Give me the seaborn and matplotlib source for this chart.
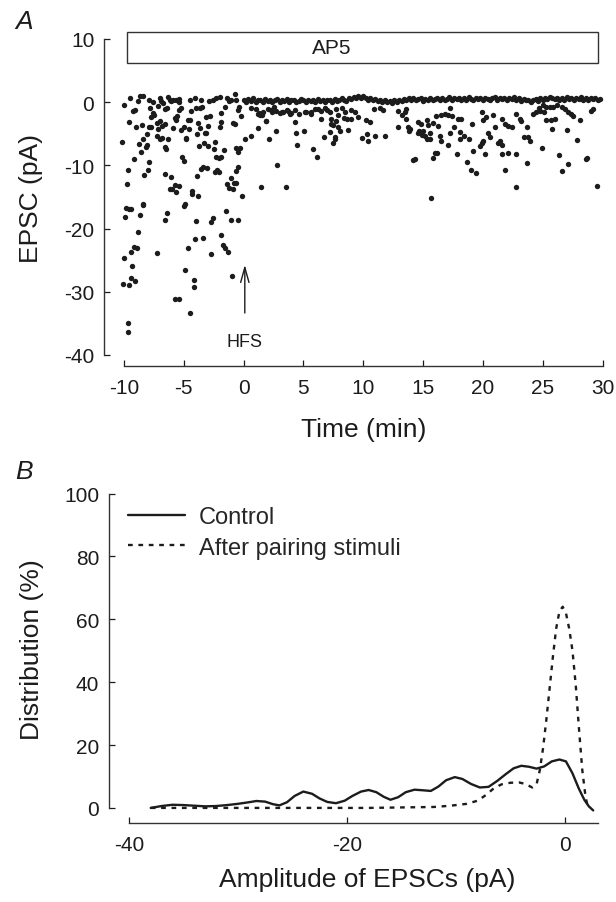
import numpy as np
import pandas as pd
import matplotlib
matplotlib.use("Agg")
import matplotlib.pyplot as plt
import seaborn as sns
from matplotlib.patches import Rectangle

# ---------- panel A: EPSC amplitude vs time (min, pA) ----------
pre_hfs = [
    (-10.15, -6.3), (-10.0, -0.5), (-9.76, -13.0), (-9.68, -10.7), (-9.85, -16.8), (-9.6, -16.9),
    (-9.45, -16.9), (-9.9, -18.1), (-10.0, -24.6), (-10.07, -28.8), (-9.54, -29.0), (-9.68, -35.0),
    (-9.65, -36.3), (-9.26, -1.4), (-9.12, -1.3), (-9.6, -3.2), (-8.84, 0.2), (-8.7, 1.0),
    (-8.42, 1.0), (-9.18, -9.0), (-8.56, -7.9), (-8.76, -6.6), (-8.42, -5.9), (-8.98, -4.0),
    (-8.48, -3.6), (-9.2, -22.9), (-8.9, -23.0), (-9.4, -23.7), (-9.3, -25.9), (-9.4, -27.8),
    (-9.04, -28.3), (-8.79, -20.5), (-8.7, -17.9), (-8.42, -16.1), (-8.37, -16.2), (-8.34, -11.5),
    (-8.0, -10.8), (-7.87, -9.4), (-8.2, -7.1), (-8.06, -6.7), (-8.1, -5.0), (-7.95, -4.0),
    (-7.73, -3.9), (-7.73, -2.3), (-7.59, -1.7), (-7.45, -2.0), (-7.87, 0.3), (-7.59, 0.1),
    (-7.81, -0.9), (-7.17, -0.6), (-7.03, 0.7), (-6.89, 0.2), (-6.75, -0.1), (-7.25, -3.3),
    (-7.03, -3.0), (-7.25, -5.4), (-7.03, -5.9), (-6.8, -5.6), (-7.17, -4.2), (-6.8, -3.8),
    (-6.6, -3.4), (-6.53, -1.1), (-6.39, -0.9), (-6.19, 0.3), (-6.05, 0.2), (-6.6, -7.1),
    (-6.47, -7.4), (-6.33, -5.8), (-6.56, -11.4), (-6.05, -11.9), (-6.14, -13.7), (-5.97, -13.8),
    (-5.63, -14.2), (-5.77, -13.1), (-5.41, -13.2), (-6.42, -17.6), (-6.61, -18.7), (-7.25, -23.9),
    (-5.91, -4.1), (-5.77, -2.5), (-5.58, -2.2), (-5.63, -2.9), (-5.36, 0.0), (-5.44, -1.2),
    (-5.22, -0.9), (-5.91, 0.3), (-5.63, 0.4), (-5.36, 0.5), (-5.13, -8.7), (-4.99, -9.3),
    (-5.27, -4.4), (-5.02, -4.0), (-4.8, -5.7), (-4.66, -2.8), (-4.57, -4.2), (-4.52, -2.9),
    (-4.38, -1.4), (-4.1, 0.7), (-4.44, 0.3), (-4.85, -5.8), (-4.91, -16.1), (-4.99, -16.5),
    (-4.88, -26.5), (-4.16, -28.1), (-4.16, -29.2), (-4.52, -33.3), (-4.66, -23.1), (-3.96, -18.8),
    (-4.04, -21.6), (-3.82, -14.9), (-4.32, -14.1), (-4.3, -14.6), (-5.77, -31.1), (-5.44, -31.1),
    (-3.96, -0.9), (-3.68, -1.0), (-3.54, 0.3), (-3.46, -0.7), (-3.9, -5.0), (-3.82, -3.3),
    (-3.68, -4.1), (-3.88, -11.7), (-3.54, -10.6), (-3.4, -10.2), (-3.07, -10.4), (-3.4, -21.5),
    (-3.74, -7.0), (-3.32, -6.4), (-2.98, -6.9), (-3.26, -4.9), (-3.12, -4.9), (-2.98, -3.7),
    (-3.18, -2.4), (-2.9, 0.2), (-2.79, -2.2), (-2.76, -24.0), (-2.71, -18.9), (-2.57, -18.3),
    (-2.48, -7.4), (-2.43, -6.3), (-2.37, -11.0), (-2.2, -10.8), (-2.09, -11.1), (-2.29, -8.6),
    (-2.06, -8.9), (-1.92, -8.7), (-1.65, -7.6), (-2.01, -3.9), (-1.87, -3.2), (-1.87, -1.7),
    (-1.59, -0.8), (-2.34, 0.7), (-2.01, 0.8), (-1.37, 0.7), (-1.26, 0.2), (-1.09, 0.4),
    (-0.75, 1.3), (-0.61, 0.3), (-0.47, -1.2), (-0.39, -0.7), (-0.92, -3.3), (-0.75, -3.4),
    (-1.39, -12.9), (-1.23, -13.6), (-0.89, -13.8), (-0.81, -12.8), (-0.61, -12.8), (-0.47, -10.2),
    (-0.67, -10.9), (-1.06, -12.0), (-0.61, -7.2), (-0.47, -7.9), (-0.33, -7.2), (-0.11, -14.9),
    (-1.03, -18.6), (-1.45, -17.2), (-0.47, -18.7), (-1.87, -21.0), (-1.73, -22.6), (-1.53, -23.0),
    (-1.31, -23.7), (-0.98, -27.5), (-0.2, -2.2), (-9.5, 0.6), (-6.3, 0.8), (-2.6, 0.4),
]

post_hfs = [
    (0.08, -5.8), (0.59, -5.3), (1.2, -4.1), (1.56, -2.0), (1.48, -13.5), (2.12, -5.9),
    (2.78, -10.0), (1.9, -3.0), (2.3, -1.3), (2.54, -0.8), (1.2, -1.9), (1.34, -2.0),
    (1.84, -3.0), (2.68, -4.6), (3.51, -13.4), (4.32, -3.1), (4.35, -4.8), (5.05, -4.6),
    (4.46, -6.7), (0.64, -0.85), (1.0, -1.1), (1.3, -1.75), (1.6, -1.5), (2.0, -1.1),
    (2.4, -1.6), (2.7, -1.4), (3.0, -1.75), (3.3, -1.5), (3.7, -1.4), (4.0, -1.75),
    (4.6, -1.9), (5.1, -1.6), (3.2, -1.6), (3.9, -1.8), (3.6, -1.2), (4.3, -1.3),
    (5.24, -1.6), (5.66, -1.6), (5.94, -1.1), (6.22, -1.1), (6.44, -1.4), (5.66, -1.9),
    (6.5, -2.6), (7.2, -1.6), (7.7, -1.1), (7.9, -2.1), (7.3, -2.7), (7.75, -3.0),
    (7.28, -3.4), (7.47, -3.6), (7.89, -3.9), (8.03, -4.6), (7.61, -5.5), (7.67, -5.9),
    (7.19, -4.7), (6.72, -5.5), (7.47, -6.5), (5.8, -7.4), (6.14, -8.7), (8.37, -2.5),
    (8.68, -2.7), (8.95, -2.7), (8.73, -4.4), (9.29, -1.6), (9.57, -2.3), (10.2, -2.8),
    (10.54, -3.1), (9.9, -5.6), (10.35, -5.1), (10.4, -6.1), (11.02, -5.3), (11.8, -5.3),
    (10.9, -1.1), (11.4, -0.85), (11.66, -1.2), (12.9, -1.4), (13.2, -2.1), (13.47, -1.6),
    (13.6, -2.7), (12.9, -3.9), (13.75, -4.0), (13.8, -4.6), (7.0, -1.3), (8.2, -1.0),
    (8.5, -1.5), (9.0, -1.2), (6.8, -0.9),
    (13.6, -1.1), (13.9, -4.3), (14.6, -3.1), (14.8, -3.4), (15.3, -2.8), (15.42, -3.65),
    (15.84, -3.3), (16.26, -3.8), (16.12, -2.2), (16.54, -2.1), (16.82, -1.9), (17.1, -2.1),
    (17.38, -2.2), (17.24, -1.0), (17.9, -2.6), (18.2, -2.6), (19.05, -3.5), (19.89, -1.6),
    (20.03, -2.8), (20.3, -2.4), (20.86, -2.1), (21.56, -2.7), (21.84, -3.5), (22.12, -3.8),
    (22.4, -3.9), (14.59, -4.8), (14.7, -4.55), (15.0, -4.55), (15.15, -5.3), (15.3, -5.8),
    (15.56, -5.8), (14.87, -5.2), (15.56, -4.8), (16.4, -5.3), (16.54, -6.1), (17.1, -6.7),
    (17.24, -4.8), (17.57, -3.9), (18.1, -4.7), (18.1, -5.8), (18.44, -5.3), (18.86, -5.9),
    (19.89, -6.4), (20.03, -6.1), (19.75, -6.9), (20.45, -4.8), (20.58, -5.45), (21.0, -3.9),
    (21.42, -6.1), (21.56, -6.7), (21.28, -6.4), (14.3, -9.0), (14.17, -9.15), (15.98, -8.0),
    (15.84, -8.8), (16.2, -8.0), (17.85, -8.25), (19.19, -7.7), (18.7, -9.5), (20.17, -8.25),
    (21.6, -8.2), (22.12, -8.0), (18.97, -10.8), (19.4, -11.2), (21.84, -10.8), (15.7, -15.1),
    (22.8, -1.9), (22.8, -8.2), (22.8, -13.5), (23.1, -2.7), (23.2, -3.0), (23.4, -5.5),
    (23.8, -5.5), (23.9, -6.1), (23.65, -4.0), (23.7, -9.6), (24.2, -1.9), (24.4, -1.6),
    (24.9, -7.3), (25.3, -2.8), (25.7, -2.8), (26.0, -2.6), (25.8, -4.3), (26.4, -8.3),
    (26.6, -10.9), (27.1, -9.8), (27.0, -4.4), (27.4, -1.9), (27.9, -6.0), (28.1, -2.9),
    (28.6, -9.0), (28.7, -8.8), (29.2, -1.1), (29.03, -1.4), (29.5, -13.3), (24.7, -0.9),
    (25.05, -0.5), (25.3, -0.8), (25.6, -0.7), (25.9, -0.8), (26.2, -0.5), (26.6, -0.8),
    (26.9, -1.1), (27.1, -1.6), (27.55, -2.2), (24.8, -1.4), (25.1, -1.5),
]

baseline_t = [
    0.0, 0.2, 0.4, 0.6, 0.8, 1.0, 1.2, 1.4, 1.6, 1.8,
    2.0, 2.2, 2.4, 2.6, 2.8, 3.0, 3.2, 3.4, 3.6, 3.8,
    4.0, 4.2, 4.4, 4.6, 4.8, 5.0, 5.2, 5.4, 5.6, 5.8,
    6.0, 6.2, 6.4, 6.6, 6.8, 7.0, 7.2, 7.4, 7.6, 7.8,
    8.0, 8.2, 8.4, 8.6, 8.8, 9.0, 9.2, 9.4, 9.6, 9.8,
    10.0, 10.2, 10.4, 10.6, 10.8, 11.0, 11.2, 11.4, 11.6, 11.8,
    12.0, 12.2, 12.4, 12.6, 12.8, 13.0, 13.2, 13.4, 13.6, 13.8,
    14.0, 14.2, 14.4, 14.6, 14.8, 15.0, 15.2, 15.4, 15.6, 15.8,
    16.0, 16.2, 16.4, 16.6, 16.8, 17.0, 17.2, 17.4, 17.6, 17.8,
    18.0, 18.2, 18.4, 18.6, 18.8, 19.0, 19.2, 19.4, 19.6, 19.8,
    20.0, 20.2, 20.4, 20.6, 20.8, 21.0, 21.2, 21.4, 21.6, 21.8,
    22.0, 22.2, 22.4, 22.6, 22.8, 23.0, 23.2, 23.4, 23.6, 23.8,
    24.0, 24.2, 24.4, 24.6, 24.8, 25.0, 25.2, 25.4, 25.6, 25.8,
    26.0, 26.2, 26.4, 26.6, 26.8, 27.0, 27.2, 27.4, 27.6, 27.8,
    28.0, 28.2, 28.4, 28.6, 28.8, 29.0, 29.2, 29.4, 29.6, 29.8,
]
baseline_pa = [
    0.3, 0.1, 0.5, 0.2, 0.6, 0.0, 0.3, 0.4, 0.1, 0.5,
    0.2, 0.4, 0.0, 0.3, 0.5, 0.1, 0.3, 0.2, 0.5, 0.0,
    0.3, 0.4, 0.1, 0.2, 0.5, 0.3, 0.0, 0.4, 0.2, 0.3,
    0.1, 0.5, 0.2, 0.3, 0.0, 0.4, 0.3, 0.1, 0.5, 0.2,
    0.3, 0.6, 0.4, 0.2, 0.7, 0.5, 0.8, 0.6, 1.0, 0.7,
    0.9, 0.6, 0.4, 0.7, 0.3, 0.5, 0.2, 0.4, 0.1, 0.3,
    0.0, 0.2, -0.1, 0.3, 0.1, 0.4, 0.2, 0.5, 0.3, 0.6,
    0.4, 0.7, 0.3, 0.5, 0.6, 0.2, 0.5, 0.4, 0.7, 0.3,
    0.5, 0.6, 0.3, 0.7, 0.4, 0.5, 0.8, 0.4, 0.6, 0.5,
    0.7, 0.4, 0.6, 0.3, 0.8, 0.5, 0.4, 0.7, 0.5, 0.6,
    0.4, 0.7, 0.5, 0.3, 0.6, 0.8, 0.4, 0.6, 0.5, 0.7,
    0.3, 0.6, 0.5, 0.8, 0.4, 0.6, 0.2, 0.5, 0.3, 0.4,
    0.1, 0.3, 0.5, 0.2, 0.6, 0.4, 0.7, 0.5, 0.8, 0.6,
    0.5, 0.7, 0.4, 0.6, 0.3, 0.8, 0.5, 0.7, 0.4, 0.6,
    0.5, 0.8, 0.3, 0.6, 0.4, 0.7, 0.5, 0.6, 0.4, 0.5,
]

# ---------- panel B: amplitude distributions (pA, %) ----------
control_curve = [
    (-38.0, 0.0), (-37.0, 0.6), (-36.0, 1.0), (-35.0, 0.9), (-34.0, 0.7), (-33.0, 0.5),
    (-32.0, 0.6), (-31.0, 0.9), (-30.0, 1.3), (-29.0, 1.8), (-28.3, 2.2), (-27.5, 2.0),
    (-26.8, 1.2), (-26.2, 0.8), (-25.5, 1.8), (-24.8, 3.8), (-24.0, 5.2), (-23.2, 4.5),
    (-22.5, 3.0), (-21.8, 1.9), (-21.0, 1.5), (-20.2, 2.3), (-19.5, 3.8), (-18.7, 5.2),
    (-18.0, 5.7), (-17.3, 5.0), (-16.6, 3.5), (-16.0, 2.6), (-15.3, 3.4), (-14.6, 5.0),
    (-13.8, 5.8), (-13.0, 5.6), (-12.3, 5.4), (-11.6, 6.8), (-10.9, 8.8), (-10.1, 9.8),
    (-9.4, 9.2), (-8.6, 7.6), (-7.8, 6.5), (-7.0, 6.7), (-6.2, 8.6), (-5.4, 10.8),
    (-4.7, 12.6), (-4.0, 13.4), (-3.3, 13.1), (-2.6, 12.5), (-1.9, 13.2), (-1.2, 14.8),
    (-0.5, 15.4), (0.1, 14.8), (0.7, 11.0), (1.3, 6.0), (1.8, 2.5), (2.2, 0.5), (2.6, -0.8),
]
paired_curve = [
    (-38.0, 0.0), (-36.0, 0.0), (-34.0, 0.0), (-32.0, 0.0), (-30.0, 0.0), (-28.0, 0.0),
    (-26.0, 0.0), (-24.0, 0.0), (-22.0, 0.0), (-20.0, 0.0), (-18.0, 0.0), (-16.0, 0.1),
    (-14.0, 0.2), (-12.0, 0.3), (-10.5, 0.7), (-9.0, 1.3), (-8.0, 2.3), (-7.2, 4.2),
    (-6.5, 6.3), (-5.8, 7.5), (-5.0, 8.0), (-4.2, 8.1), (-3.6, 7.6), (-3.0, 6.5),
    (-2.6, 7.5), (-2.3, 12.0), (-2.0, 19.0), (-1.7, 28.0), (-1.4, 38.0), (-1.1, 48.0),
    (-0.8, 57.0), (-0.5, 62.5), (-0.2, 64.0), (0.1, 62.0), (0.4, 57.0), (0.7, 50.0),
    (1.0, 39.0), (1.3, 25.0), (1.6, 12.0), (1.9, 3.5), (2.1, 0.5), (2.3, 0.0),
]

ink = "#1c1c1c"

sns.set_theme(style="ticks")
plt.rcParams["font.family"] = ["Liberation Sans", "DejaVu Sans"]
plt.rcParams["axes.unicode_minus"] = False
plt.rcParams["axes.edgecolor"] = "#333333"
plt.rcParams["axes.linewidth"] = 1.0

fig = plt.figure(figsize=(6.16, 9.03), dpi=100)
ax1 = fig.add_axes([104 / 616, 1 - 367 / 903, 504.5 / 616, 336.5 / 903])
ax2 = fig.add_axes([109 / 616, 1 - 824 / 903, 494 / 616, 331 / 903])

# panel A
pts = pd.DataFrame(pre_hfs + post_hfs + list(zip(baseline_t, baseline_pa)),
                   columns=["time", "epsc"])
sns.scatterplot(data=pts, x="time", y="epsc", ax=ax1, color=ink, s=15,
                linewidth=0, legend=False)

ax1.set_xlim(-11.67, 30.5)
ax1.set_ylim(-41.75, 11.5)
ax1.set_xticks(range(-10, 31, 5))
ax1.set_yticks(range(-40, 11, 10))
ax1.spines[["top", "right"]].set_visible(False)
ax1.spines["left"].set_bounds(-40, 10)
ax1.spines["bottom"].set_bounds(-10, 30)

# AP5 application bar
ax1.add_patch(Rectangle((-9.75, 6.2), 39.35, 4.9, fill=False, ec="#333333", lw=1.0))
ax1.text(7.4, 8.65, "AP5", ha="center", va="center", fontsize=15, color=ink)

# HFS arrow
ax1.annotate("", xy=(0.1, -25.3), xytext=(0.1, -33.8),
             arrowprops=dict(arrowstyle="->,head_length=0.9,head_width=0.25",
                             lw=1.0, color=ink))
ax1.text(0.1, -37.9, "HFS", ha="center", va="center", fontsize=13, color=ink)

ax1.set_xlabel("Time (min)", fontsize=19, color=ink)
ax1.set_ylabel("EPSC (pA)", fontsize=19, color=ink)
ax1.xaxis.set_label_coords(0.514, -0.152)
ax1.yaxis.set_label_coords(-0.12, 0.5)

# panel B
ctrl = pd.DataFrame(control_curve, columns=["amp", "pct"])
pair = pd.DataFrame(paired_curve, columns=["amp", "pct"])
sns.lineplot(data=ctrl, x="amp", y="pct", ax=ax2, color=ink, lw=1.7, label="Control")
sns.lineplot(data=pair, x="amp", y="pct", ax=ax2, color=ink, lw=1.7,
             linestyle=(0, (2.0, 2.4)), label="After pairing stimuli")

ax2.set_xlim(-41.83, 3.5)
ax2.set_ylim(-4.8, 100.5)
ax2.set_xticks([-40, -20, 0])
ax2.set_yticks(range(0, 101, 20))
ax2.spines[["top", "right"]].set_visible(False)
ax2.spines["left"].set_bounds(0, 100)
ax2.spines["bottom"].set_bounds(-40, 3)
ax2.set_xlabel("Amplitude of EPSCs (pA)", fontsize=19, color=ink)
ax2.set_ylabel("Distribution (%)", fontsize=19, color=ink)
ax2.xaxis.set_label_coords(0.522, -0.133)
ax2.yaxis.set_label_coords(-0.132, 0.526)
ax2.legend(loc="upper left", bbox_to_anchor=(0.02, 0.985), frameon=False, fontsize=17,
           handlelength=2.4, handletextpad=0.6, labelspacing=0.35, borderaxespad=0)

for ax in (ax1, ax2):
    ax.tick_params(direction="in", length=4, width=0.9, labelsize=15, colors=ink)
    ax.tick_params(axis="x", pad=9)
    ax.tick_params(axis="y", pad=7)

fig.text(24 / 616, 1 - 22 / 903, "A", fontsize=19, style="italic", ha="center",
         va="center", color=ink)
fig.text(24 / 616, 1 - 472 / 903, "B", fontsize=19, style="italic", ha="center",
         va="center", color=ink)

fig.savefig("out.png", dpi=100)
